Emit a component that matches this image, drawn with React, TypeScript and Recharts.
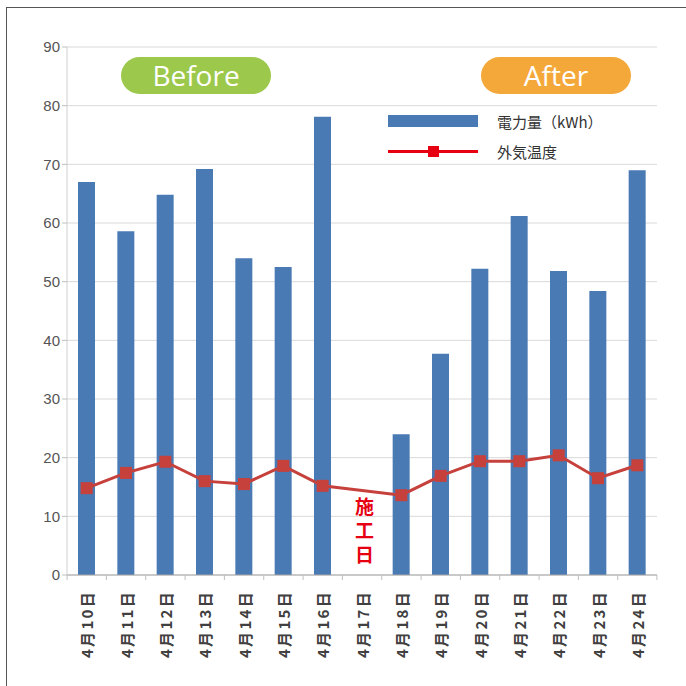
import {
    ComposedChart,
    Bar,
    Line,
    XAxis,
    YAxis,
    CartesianGrid,
} from "recharts";

const days = [
    "4月10日", "4月11日", "4月12日", "4月13日", "4月14日", "4月15日", "4月16日", "4月17日",
    "4月18日", "4月19日", "4月20日", "4月21日", "4月22日", "4月23日", "4月24日",
];
// 電力量(kWh) - 4/17は施工日なのでデータなし
const power = [67.0, 58.6, 64.8, 69.2, 54.0, 52.5, 78.1, null, 24.0, 37.7, 52.2, 61.2, 51.8, 48.4, 69.0];
// 外気温度
const temp = [14.8, 17.4, 19.3, 16.0, 15.5, 18.6, 15.2, null, 13.6, 16.9, 19.4, 19.4, 20.4, 16.5, 18.7];
const yTicks = [0, 10, 20, 30, 40, 50, 60, 70, 80, 90];

const blue = "#4a7ab4";
const lineRed = "#c6403c";
const jpFont = "'Noto Sans CJK JP', 'Noto Sans', sans-serif";

const chartData = days.map((d, i) => ({ day: d, power: power[i], temp: temp[i] }));

const DayTick = (props: any) => {
    const { x, y, payload, index } = props;
    const half = 19.6;
    return (
        <g>
            <line x1={x - half} y1={y - 8} x2={x - half} y2={y - 3} stroke="#bfbfbf" />
            {index === days.length - 1 && (
                <line x1={x + half} y1={y - 8} x2={x + half} y2={y - 3} stroke="#bfbfbf" />
            )}
            <text
                transform={`translate(${x},${y + 7}) rotate(-90)`}
                textAnchor="end"
                dominantBaseline="central"
                fontSize={15}
                letterSpacing={2.3}
                fontWeight="bold"
                fill="#404040"
                fontFamily={jpFont}
            >
                {payload.value}
            </text>
        </g>
    );
};

const SquareDot = (props: any) => {
    const { cx, cy, value } = props;
    if (value == null || cx == null || cy == null) return null;
    return <rect x={cx - 6} y={cy - 6} width={12} height={12} fill={lineRed} />;
};

const LegendBox = () => (
    <div style={{ position: "absolute", left: 388, top: 109, fontFamily: jpFont, fontSize: 15, color: "#333" }}>
        <div style={{ display: "flex", alignItems: "center", height: 24 }}>
            <div style={{ width: 90, height: 12, background: blue }} />
            <span style={{ marginLeft: 19 }}>電力量（kWh）</span>
        </div>
        <div style={{ display: "flex", alignItems: "center", height: 24, marginTop: 6 }}>
            <div style={{ width: 90, height: 14, position: "relative" }}>
                <div style={{ position: "absolute", top: 6, left: 0, width: 90, height: 3, background: "#e60012" }} />
                <div style={{ position: "absolute", top: 2, left: 40, width: 11, height: 11, background: "#e60012" }} />
            </div>
            <span style={{ marginLeft: 19 }}>外気温度</span>
        </div>
    </div>
);

const pill = (bg: string): React.CSSProperties => ({
    position: "absolute",
    top: 57,
    width: 150,
    height: 37,
    borderRadius: 19,
    background: bg,
    color: "#fff",
    fontFamily: "'Open Sans', 'Noto Sans', sans-serif",
    fontSize: 28,
    lineHeight: "37px",
    textAlign: "center",
});

export default function App() {
    return (
        <div style={{ position: "absolute", left: 0, top: 0, width: 686, height: 686, background: "#fff", overflow: "hidden" }}>
            <div style={{ position: "absolute", left: 6, top: 7, width: 680, height: 1, background: "#555" }} />
            <div style={{ position: "absolute", left: 6, top: 7, width: 1, height: 679, background: "#555" }} />
            <ComposedChart
                width={686}
                height={686}
                data={chartData}
                margin={{ top: 47, right: 29, bottom: 31, left: 27 }}
                barCategoryGap={0}
            >
                <CartesianGrid vertical={false} stroke="#d9d9d9" />
                <XAxis
                    dataKey="day"
                    interval={0}
                    height={80}
                    tickLine={false}
                    axisLine={{ stroke: "#a6a6a6" }}
                    tick={<DayTick />}
                />
                <YAxis
                    domain={[0, 90]}
                    ticks={yTicks}
                    width={40}
                    axisLine={{ stroke: "#d0d0d0" }}
                    tickLine={{ stroke: "#bfbfbf" }}
                    tickSize={5}
                    tick={{ fontSize: 15, fill: "#555", fontFamily: "'Liberation Sans', sans-serif" }}
                />
                <Bar dataKey="power" fill={blue} barSize={17} isAnimationActive={false} />
                <Line
                    dataKey="temp"
                    stroke={lineRed}
                    strokeWidth={3}
                    connectNulls
                    dot={<SquareDot />}
                    activeDot={false}
                    isAnimationActive={false}
                />
            </ComposedChart>
            <LegendBox />
            <div style={{ ...pill("#9cc84b"), left: 121 }}>Before</div>
            <div style={{ ...pill("#f5a83a"), left: 481 }}>After</div>
            <div
                style={{
                    position: "absolute",
                    left: 354,
                    top: 497,
                    writingMode: "vertical-rl",
                    fontFamily: jpFont,
                    fontSize: 19,
                    fontWeight: "bold",
                    color: "#e60012",
                    letterSpacing: 5,
                    lineHeight: "20px",
                }}
            >
                施工日
            </div>
        </div>
    );
}
